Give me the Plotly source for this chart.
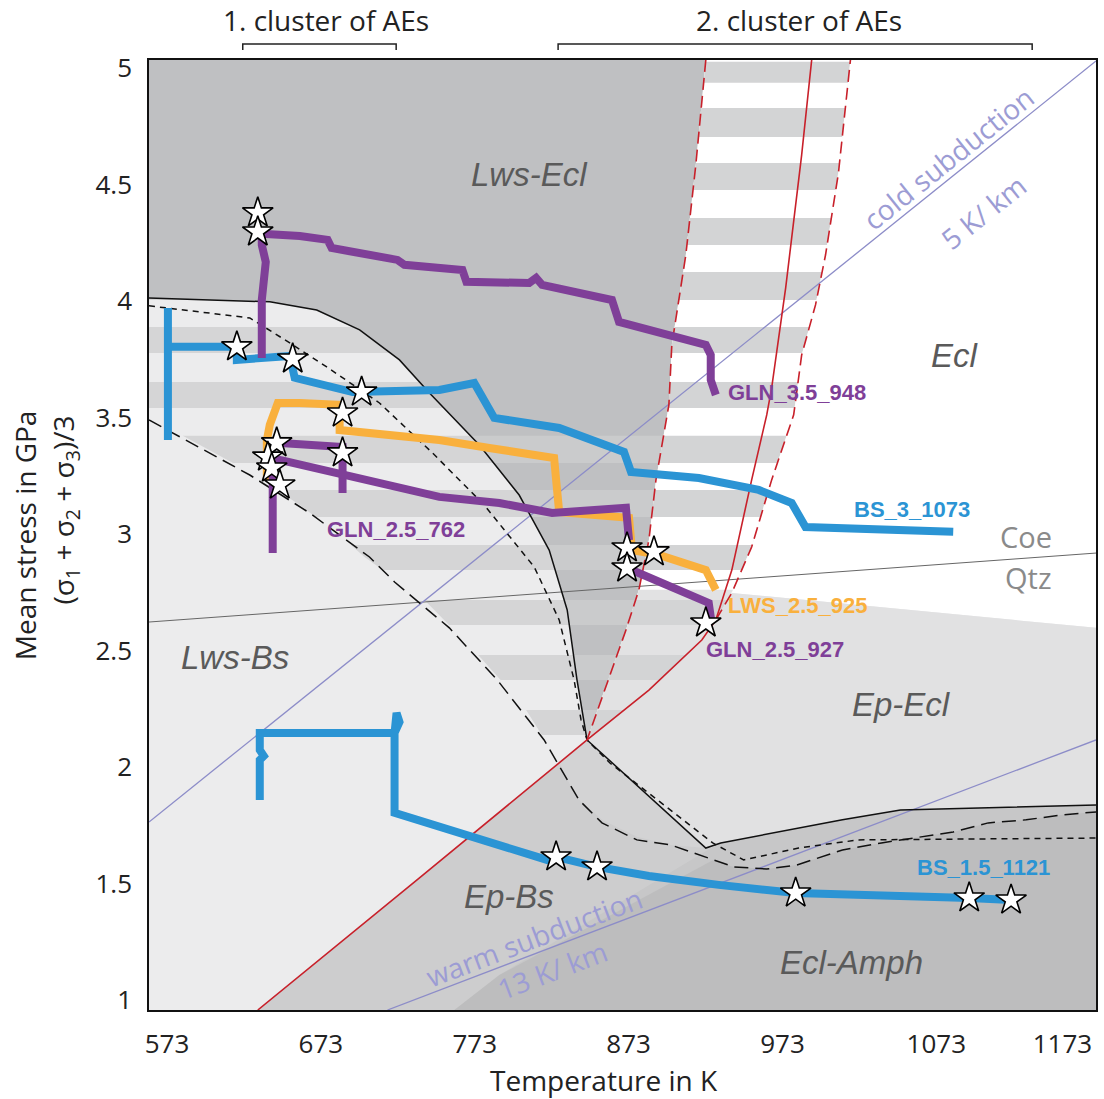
import plotly.graph_objects as go

# ---------------- axes ----------------
T_RANGE = [561.3, 1176.8]
P_RANGE = [0.957, 5.034]
x_tickvals = [573, 673, 773, 873, 973, 1073, 1155]
x_ticktext = ["573", "673", "773", "873", "973", "1073", "1173"]
y_tickvals = [1, 1.5, 2, 2.5, 3, 3.5, 4, 4.5, 5]
y_ticktext = ["1", "1.5", "2", "2.5", "3", "3.5", "4", "4.5", "5"]

# ---------------- phase boundaries (T in K, P in GPa) ----------------
lws_solid_T = [561.3, 639.8, 670.3, 698.2, 724.1, 743.6, 776.0, 801.9, 821.4, 833.1, 839.5, 846.0,
               923.2, 932.9, 1012.0, 1049.7, 1176.8]
lws_solid_P = [4.013, 3.996, 3.961, 3.876, 3.747, 3.605, 3.382, 3.167, 2.931, 2.674, 2.373, 2.116,
               1.652, 1.674, 1.773, 1.815, 1.837]

short_dash_T = [561.3, 626.8, 652.8, 676.8, 711.1, 745.5, 779.2, 811.7, 827.9, 837.6, 842.1, 846.0,
                860.9, 927.7, 947.8, 983.5, 1022.4, 1176.8]
short_dash_P = [3.979, 3.927, 3.820, 3.717, 3.562, 3.348, 3.124, 2.858, 2.631, 2.373, 2.202, 2.116,
                2.017, 1.674, 1.601, 1.652, 1.687, 1.695]

long_dash_T = [561.3, 626.8, 665.7, 704.6, 720.9, 756.5, 787.7, 818.1, 840.8, 855.7, 878.4, 900.5,
               941.4, 962.8, 982.2, 1012.0, 1037.3, 1062.0, 1084.0, 1106.7, 1131.4, 1154.1, 1176.8]
long_dash_P = [3.489, 3.253, 3.090, 2.901, 2.794, 2.597, 2.373, 2.116, 1.858, 1.760, 1.687, 1.665,
               1.571, 1.562, 1.579, 1.644, 1.674, 1.700, 1.721, 1.760, 1.773, 1.794, 1.807]

red_solid_T = [632.0, 737.1, 846.0, 886.2, 920.6, 929.7, 940.1, 953.0, 962.8, 966.0, 975.1, 985.5, 992.0]
red_solid_P = [0.957, 1.524, 2.116, 2.330, 2.545, 2.631, 2.845, 3.232, 3.511, 3.627, 4.056, 4.627, 5.034]

red_dash_left_T = [923.2, 916.7, 910.2, 901.1, 899.2, 890.8, 886.2, 879.7, 871.3, 860.3, 851.9, 846.0]
red_dash_left_P = [5.034, 4.584, 4.197, 3.811, 3.554, 3.232, 2.974, 2.760, 2.588, 2.386, 2.223, 2.116]

red_dash_right_T = [929.7, 940.1, 953.0, 966.0, 980.3, 985.5, 994.5, 1001.0, 1009.4, 1017.2]
red_dash_right_P = [2.631, 2.747, 2.944, 3.232, 3.511, 3.768, 3.983, 4.197, 4.549, 5.034]

stripe_edge_T = [827.9, 805.2, 776.6, 740.3, 701.4, 685.2, 659.3, 626.8, 594.4, 561.3]
stripe_edge_P = [2.017, 2.258, 2.472, 2.717, 2.901, 2.996, 3.124, 3.266, 3.382, 3.498]

coe_qtz_T = [561.3, 1176.8]
coe_qtz_P = [2.622, 2.918]
cold_T = [561.3, 1176.8]
cold_P = [1.764, 5.030]
warm_T = [716.3, 1176.8]
warm_P = [0.957, 2.116]

# field polygons
ep_bs_T = [632.0, 846.0, 923.2, 1176.8, 1176.8]
ep_bs_P = [0.957, 2.116, 1.652, 1.837, 0.957]
ecl_amph_T = [759.8, 789.0, 927.7, 932.9, 1012.0, 1049.7, 1176.8, 1176.8]
ecl_amph_P = [0.957, 1.107, 1.657, 1.674, 1.773, 1.815, 1.837, 0.957]
ecl_amph_low_T = [759.8, 789.0, 927.7, 941.4, 962.8, 982.2, 1012.0, 1037.3, 1062.0, 1084.0, 1106.7,
                  1131.4, 1154.1, 1176.8, 1176.8]
ecl_amph_low_P = [0.957, 1.107, 1.600, 1.571, 1.562, 1.579, 1.644, 1.674, 1.700, 1.721, 1.760,
                  1.773, 1.794, 1.807, 0.957]
wedge_T = [846.0, 923.2, 900.5, 878.4, 855.7, 838.9, 827.9]
wedge_P = [2.116, 1.652, 1.665, 1.700, 1.773, 1.871, 2.017]
ep_ecl_T = [846.0, 886.2, 920.6, 929.7, 940.1, 1176.8, 1176.8, 1049.7, 1012.0, 932.9, 923.2]
ep_ecl_P = [2.116, 2.330, 2.545, 2.631, 2.747, 2.597, 1.837, 1.815, 1.773, 1.674, 1.652]
ecl_T = [940.1, 953.0, 966.0, 980.3, 985.5, 994.5, 1001.0, 1009.4, 1017.2, 1176.8, 1176.8]
ecl_P = [2.747, 2.944, 3.232, 3.511, 3.768, 3.983, 4.197, 4.549, 5.034, 5.034, 2.597]

# stripe bands (GPa)
band_lo = [4.936, 4.704, 4.476, 4.240, 4.004, 3.777, 3.541, 3.305, 3.073, 2.845, 2.609, 2.373, 2.137, 1.901]
band_hi = [5.026, 4.828, 4.592, 4.356, 4.124, 3.888, 3.652, 3.421, 3.189, 2.953, 2.717, 2.481, 2.245, 2.009]

# ---------------- experiment paths ----------------
bs3_T = [573.6, 573.6, 573.6, 618.4, 618.4, 652.8, 656.0, 693.6, 750.0, 772.7, 785.7, 827.9, 853.8,
         870.0, 874.6, 918.7, 957.6, 979.0, 988.0, 1084.0]
bs3_P = [3.403, 3.970, 3.803, 3.803, 3.747, 3.764, 3.670, 3.609, 3.618, 3.648, 3.498, 3.455, 3.395,
         3.352, 3.266, 3.240, 3.189, 3.133, 3.030, 3.009]

bs15_T = [633.3, 633.3, 635.9, 633.3, 633.3, 720.9, 722.2, 724.1, 720.9, 720.9, 820.1, 825.9, 852.5,
          886.2, 931.6, 981.6, 1094.4, 1121.6]
bs15_P = [1.858, 2.030, 2.047, 2.073, 2.146, 2.146, 2.232, 2.193, 2.146, 1.803, 1.601, 1.614, 1.571,
          1.532, 1.494, 1.459, 1.438, 1.429]

gln35_T = [634.6, 634.6, 637.2, 634.6, 634.6, 659.3, 677.4, 680.0, 722.8, 727.3, 765.0, 767.6, 808.4,
           812.9, 816.8, 862.2, 866.8, 923.2, 926.4, 926.4, 929.7]
gln35_P = [3.755, 4.004, 4.167, 4.240, 4.288, 4.279, 4.262, 4.227, 4.176, 4.155, 4.133, 4.082, 4.077,
           4.099, 4.069, 4.004, 3.910, 3.811, 3.768, 3.661, 3.597]

lws25_T = [637.9, 637.9, 639.8, 645.0, 659.3, 685.2, 685.2, 724.1, 750.0, 782.5, 824.6, 825.9, 827.9,
           873.3, 875.2, 892.7, 923.2, 929.7]
lws25_P = [3.232, 3.403, 3.468, 3.562, 3.562, 3.554, 3.446, 3.421, 3.403, 3.369, 3.326, 3.232, 3.094,
           3.069, 2.931, 2.910, 2.845, 2.760]

gln25a_T = [644.3, 687.1, 687.1]
gln25a_P = [3.391, 3.373, 3.176]
gln762_T = [641.7, 641.7, 646.3, 687.1, 750.0, 789.0, 823.3, 871.3, 873.3]
gln762_P = [2.918, 3.326, 3.318, 3.253, 3.159, 3.133, 3.090, 3.112, 2.974]
gln927_T = [872.0, 925.1, 926.4, 923.2]
gln927_P = [2.854, 2.704, 2.644, 2.618]

star_T = [618.4, 654.7, 699.5, 825.9, 852.5, 981.6, 1094.4, 1121.6,
          632.0, 632.0, 644.3, 687.1, 638.5, 641.1, 646.3, 872.0, 872.0, 923.2,
          687.1, 889.5]
star_P = [3.803, 3.751, 3.609, 1.614, 1.571, 1.459, 1.438, 1.429,
          4.378, 4.296, 3.391, 3.348, 3.330, 3.283, 3.210, 2.940, 2.854, 2.618,
          3.519, 2.923]

# ---------------- colours ----------------
BLUE = "#2b94d4"
ORANGE = "#f9b03d"
PURPLE = "#7f3f98"
RED = "#c8202a"
GEO = "#8c8cc8"


def clip_band(T, P, lo, hi):
    pts = list(zip(T, P))

    def clip(pts, inside, y0):
        out = []
        for i in range(len(pts)):
            cur, prev = pts[i], pts[i - 1]
            ci, pi_ = inside(cur), inside(prev)
            if ci != pi_:
                t = (y0 - prev[1]) / (cur[1] - prev[1])
                out.append((prev[0] + t * (cur[0] - prev[0]), y0))
            if ci:
                out.append(cur)
        return out

    pts = clip(pts, lambda p: p[1] >= lo, lo)
    if pts:
        pts = clip(pts, lambda p: p[1] <= hi, hi)
    return pts


def stripes(T, P, lo_list, hi_list, pmin=-1e9, pmax=1e9):
    xs, ys = [], []
    for lo, hi in zip(lo_list, hi_list):
        lo2, hi2 = max(lo, pmin), min(hi, pmax)
        if hi2 <= lo2:
            continue
        pts = clip_band(T, P, lo2, hi2)
        if len(pts) < 3:
            continue
        xs += [p[0] for p in pts] + [pts[0][0], None]
        ys += [p[1] for p in pts] + [pts[0][1], None]
    return xs, ys


fig = go.Figure()


def poly(T, P, color):
    fig.add_trace(go.Scatter(x=list(T) + [T[0]], y=list(P) + [P[0]], mode="lines", fill="toself",
                             fillcolor=color, line=dict(width=0), hoverinfo="skip", showlegend=False))


def band_fill(xs, ys, color):
    fig.add_trace(go.Scatter(x=xs, y=ys, mode="lines", fill="toself", fillcolor=color,
                             line=dict(width=0), hoverinfo="skip", showlegend=False))


def line(T, P, color, width, dash="solid"):
    fig.add_trace(go.Scatter(x=T, y=P, mode="lines", line=dict(color=color, width=width, dash=dash),
                             hoverinfo="skip", showlegend=False))


# zone S1 (left transition band) with stripes
s1_T = lws_solid_T[:12] + [827.9] + stripe_edge_T[1:]
s1_P = lws_solid_P[:12] + [2.017] + stripe_edge_P[1:]
band_fill(*stripes(s1_T, s1_P, band_lo, band_hi), "#d5d5d6")

# Lws-Ecl field
lwsecl_T = [561.3] + red_dash_left_T + lws_solid_T[:11][::-1]
lwsecl_P = [5.034] + red_dash_left_P + lws_solid_P[:11][::-1]
poly(lwsecl_T, lwsecl_P, "#bfc0c2")
band_fill(*stripes(lwsecl_T, lwsecl_P, band_lo, band_hi, pmax=3.45), "#cacbcc")

# S2 (between red lines)
s2_T = red_dash_left_T + red_solid_T[3:6] + red_dash_right_T[1:]
s2_P = red_dash_left_P + red_solid_P[3:6] + red_dash_right_P[1:]
poly(s2_T, s2_P, "#ffffff")
band_fill(*stripes(s2_T, s2_P, [0.9], [2.76]), "#e2e2e3")
band_fill(*stripes(s2_T, s2_P, band_lo, band_hi), "#d3d4d5")

poly(ecl_T, ecl_P, "#ffffff")
poly(ep_ecl_T, ep_ecl_P, "#e1e1e2")
poly(ep_bs_T, ep_bs_P, "#cdcdce")
poly(ecl_amph_T, ecl_amph_P, "#c7c7c8")
poly(ecl_amph_low_T, ecl_amph_low_P, "#bdbdbe")
poly(wedge_T, wedge_P, "#d3d3d4")

# boundary lines
line(coe_qtz_T, coe_qtz_P, "#666666", 1)
line(cold_T, cold_P, GEO, 1.3)
line(warm_T, warm_P, GEO, 1.3)
line(long_dash_T, long_dash_P, "#111111", 1.5, "14px,7px")
line(short_dash_T, short_dash_P, "#111111", 1.5, "6px,5px")
line(lws_solid_T, lws_solid_P, "#111111", 1.5)
line(red_solid_T, red_solid_P, RED, 1.6)
line(red_dash_left_T, red_dash_left_P, RED, 1.6, "12px,6px")
line(red_dash_right_T, red_dash_right_P, RED, 1.6, "12px,6px")

# experiment paths
W = 8
line(bs15_T, bs15_P, BLUE, W)
line(bs3_T, bs3_P, BLUE, W)
line(lws25_T, lws25_P, ORANGE, W)
line(gln35_T, gln35_P, PURPLE, W)
line(gln25a_T, gln25a_P, PURPLE, W)
line(gln762_T, gln762_P, PURPLE, W)
line(gln927_T, gln927_P, PURPLE, W)

fig.add_trace(go.Scatter(x=star_T, y=star_P, mode="markers",
                         marker=dict(symbol="star", size=23, color="white",
                                     line=dict(color="black", width=1.6)),
                         hoverinfo="skip", showlegend=False))

ann = []
FIELD = dict(family="Liberation Sans, Arial, sans-serif", size=33, color="#5a5a5a")
for txt, t, p in [("Lws-Ecl", 808.4, 4.541), ("Ecl", 1085.3, 3.768), ("Lws-Bs", 617.1, 2.468),
                  ("Ep-Ecl", 1050.3, 2.266), ("Ep-Bs", 795.4, 1.442), ("Ecl-Amph", 1017.9, 1.159)]:
    ann.append(dict(x=t, y=p, xref="x", yref="y", text="<i>" + txt + "</i>", showarrow=False,
                    xanchor="center", yanchor="middle", font=FIELD))
for txt, t, p in [("Coe", 1131.4, 2.987), ("Qtz", 1132.7, 2.811)]:
    ann.append(dict(x=t, y=p, xref="x", yref="y", text=txt, showarrow=False,
                    xanchor="center", yanchor="middle",
                    font=dict(family="Open Sans, sans-serif", size=29, color="#8a8a8a")))
GEOF = dict(family="Open Sans, sans-serif", size=28, color="#9c9cd4")
for txt, t, p, a in [("cold subduction", 1080.8, 4.614, -38.7), ("5 K/ km", 1103.5, 4.382, -38.7),
                     ("warm subduction", 811.7, 1.270, -20.8), ("13 K/ km", 823.3, 1.129, -20.8)]:
    ann.append(dict(x=t, y=p, xref="x", yref="y", text=txt, textangle=a, showarrow=False,
                    xanchor="center", yanchor="middle", font=GEOF))
LAB = dict(family="Liberation Sans, Arial, sans-serif", size=22)
for txt, t, p, c in [("GLN_3.5_948", 936.2, 3.605, PURPLE), ("BS_3_1073", 1017.9, 3.107, BLUE),
                     ("GLN_2.5_762", 675.5, 3.017, PURPLE), ("LWS_2.5_925", 936.2, 2.691, ORANGE),
                     ("GLN_2.5_927", 921.9, 2.502, PURPLE), ("BS_1.5_1121", 1059.4, 1.567, BLUE)]:
    ann.append(dict(x=t, y=p, xref="x", yref="y", text="<b>" + txt + "</b>", showarrow=False,
                    xanchor="left", yanchor="middle", font=dict(color=c, **LAB)))

TXT = dict(family="Open Sans, sans-serif", size=28, color="#222222")
for txt, x, y, a in [("1. cluster of AEs", 0.1865, 1.042, 0), ("2. cluster of AEs", 0.686, 1.042, 0),
                     ("Temperature in K", 0.4805, -0.0737, 0), ("Mean stress in GPa", -0.1307, 0.50, -90),
                     ("(σ<sub>1</sub> + σ<sub>2</sub> + σ<sub>3</sub>)/3", -0.0885, 0.526, -90)]:
    ann.append(dict(x=x, y=y, xref="paper", yref="paper", text=txt, textangle=a, showarrow=False,
                    xanchor="center", yanchor="middle", font=TXT))

shapes = []
for x0, x1 in [(0.099, 0.261), (0.432, 0.9326)]:
    shapes.append(dict(type="path", xref="paper", yref="paper",
                       path=f"M {x0},1.0105 L {x0},1.0168 L {x1},1.0168 L {x1},1.0105",
                       line=dict(color="#222222", width=1.5)))

fig.update_layout(
    width=1104, height=1099, autosize=False,
    margin=dict(l=149, r=6, t=60, b=89),
    paper_bgcolor="white", plot_bgcolor="#ececed",
    annotations=ann, shapes=shapes,
    xaxis=dict(range=T_RANGE, tickvals=x_tickvals, ticktext=x_ticktext, showgrid=False, zeroline=False,
               showline=True, linecolor="#111111", linewidth=1.5, mirror=True,
               ticks="outside", ticklen=10, tickcolor="rgba(0,0,0,0)",
               tickfont=dict(family="Open Sans, sans-serif", size=26, color="#222222")),
    yaxis=dict(range=P_RANGE, tickvals=y_tickvals, ticktext=y_ticktext, showgrid=False, zeroline=False,
               showline=True, linecolor="#111111", linewidth=1.5, mirror=True,
               ticks="outside", ticklen=10, tickcolor="rgba(0,0,0,0)",
               tickfont=dict(family="Open Sans, sans-serif", size=26, color="#222222")),
)

fig.write_html("out.html")
